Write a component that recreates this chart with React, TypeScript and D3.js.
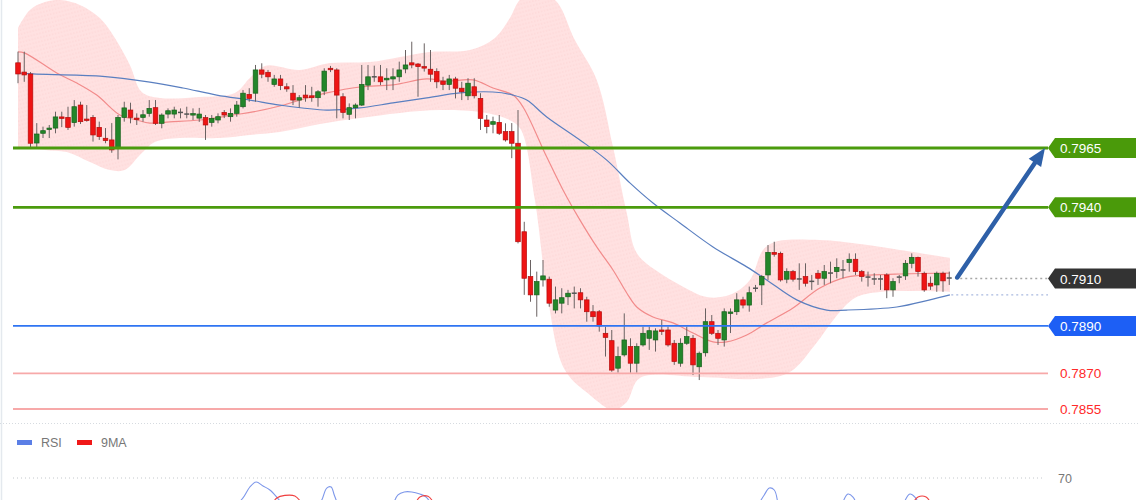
import React from 'react';
import * as d3 from 'd3';

const W = 1140;
const H = 500;

// ---- candle data (index 0..149) ----
const open = [0.80009,0.79970,0.79962,0.79671,0.79712,0.79732,0.79734,0.79781,0.79779,0.79757,0.79831,0.79772,0.79779,0.79737,0.79691,0.79684,0.79649,0.79779,0.79810,0.79776,0.79779,0.79796,0.79820,0.79754,0.79793,0.79793,0.79800,0.79793,0.79793,0.79776,0.79778,0.79758,0.79768,0.79800,0.79782,0.79796,0.79824,0.79876,0.79881,0.79979,0.79969,0.79918,0.79941,0.79908,0.79881,0.79852,0.79873,0.79870,0.79862,0.79890,0.79986,0.79979,0.79866,0.79792,0.79820,0.79831,0.79915,0.79950,0.79950,0.79937,0.79941,0.79950,0.79983,0.80009,0.80004,0.79993,0.79982,0.79972,0.79932,0.79918,0.79941,0.79902,0.79870,0.79908,0.79859,0.79768,0.79750,0.79758,0.79719,0.79719,0.79670,0.79297,0.79108,0.79031,0.79094,0.79097,0.78967,0.78996,0.79023,0.79038,0.79040,0.79010,0.78960,0.78960,0.78869,0.78838,0.78722,0.78778,0.78813,0.78743,0.78820,0.78848,0.78841,0.78883,0.78883,0.78827,0.78743,0.78827,0.78848,0.78728,0.78787,0.78918,0.78869,0.78841,0.78955,0.78960,0.79010,0.78988,0.79058,0.79073,0.79115,0.79210,0.79206,0.79097,0.79129,0.79097,0.79108,0.79087,0.79122,0.79101,0.79122,0.79129,0.79136,0.79167,0.79181,0.79129,0.79105,0.79097,0.79097,0.79115,0.79052,0.79105,0.79111,0.79164,0.79189,0.79122,0.79080,0.79073,0.79122,0.79101];
const high = [0.80056,0.80056,0.79970,0.79755,0.79740,0.79747,0.79803,0.79803,0.79824,0.79852,0.79845,0.79831,0.79789,0.79761,0.79734,0.79755,0.79789,0.79845,0.79841,0.79796,0.79810,0.79852,0.79852,0.79796,0.79817,0.79824,0.79817,0.79824,0.79817,0.79819,0.79789,0.79789,0.79796,0.79810,0.79817,0.79848,0.79894,0.79902,0.80000,0.80007,0.79979,0.79958,0.79958,0.79923,0.79915,0.79873,0.79915,0.79908,0.79894,0.79986,0.79996,0.79986,0.79881,0.79838,0.79838,0.80000,0.80000,0.79997,0.80000,0.79986,0.79986,0.80014,0.80063,0.80098,0.80008,0.80091,0.80063,0.79986,0.79950,0.79958,0.79950,0.79929,0.79944,0.79944,0.79881,0.79789,0.79782,0.79789,0.79754,0.79755,0.79810,0.79339,0.79178,0.79129,0.79178,0.79108,0.79066,0.79059,0.79052,0.79066,0.79059,0.79023,0.78988,0.78967,0.78897,0.78883,0.78813,0.78953,0.78848,0.78827,0.78897,0.78897,0.78890,0.78925,0.78897,0.78841,0.78848,0.78897,0.78862,0.78792,0.78974,0.78946,0.78883,0.78974,0.78974,0.79038,0.79023,0.79066,0.79073,0.79115,0.79241,0.79255,0.79213,0.79143,0.79136,0.79164,0.79164,0.79115,0.79136,0.79157,0.79171,0.79185,0.79178,0.79206,0.79206,0.79136,0.79129,0.79122,0.79115,0.79122,0.79101,0.79115,0.79178,0.79206,0.79192,0.79129,0.79108,0.79129,0.79129,0.79129];
const low = [0.79923,0.79929,0.79653,0.79654,0.79692,0.79692,0.79712,0.79738,0.79726,0.79740,0.79751,0.79761,0.79677,0.79684,0.79670,0.79630,0.79602,0.79761,0.79754,0.79747,0.79761,0.79782,0.79747,0.79733,0.79775,0.79775,0.79775,0.79775,0.79768,0.79760,0.79684,0.79740,0.79754,0.79776,0.79761,0.79782,0.79817,0.79845,0.79845,0.79944,0.79929,0.79908,0.79894,0.79887,0.79831,0.79820,0.79845,0.79845,0.79824,0.79873,0.79970,0.79775,0.79775,0.79768,0.79775,0.79827,0.79894,0.79929,0.79915,0.79894,0.79894,0.79929,0.79965,0.79986,0.79866,0.79972,0.79929,0.79902,0.79894,0.79894,0.79859,0.79852,0.79852,0.79859,0.79726,0.79712,0.79712,0.79705,0.79677,0.79607,0.79248,0.79031,0.79002,0.78939,0.79066,0.78981,0.78953,0.78953,0.78988,0.78974,0.78974,0.78918,0.78918,0.78876,0.78771,0.78707,0.78703,0.78771,0.78703,0.78703,0.78813,0.78799,0.78792,0.78862,0.78813,0.78736,0.78728,0.78820,0.78693,0.78672,0.78771,0.78862,0.78820,0.78813,0.78870,0.78946,0.78974,0.78960,0.79044,0.78988,0.79094,0.79192,0.79087,0.79080,0.79087,0.79052,0.79066,0.79052,0.79073,0.79073,0.79080,0.79101,0.79101,0.79129,0.79115,0.79087,0.79066,0.79073,0.79052,0.79017,0.79023,0.79080,0.79094,0.79143,0.79108,0.79044,0.79052,0.79044,0.79044,0.79073];
const close = [0.79962,0.79958,0.79670,0.79709,0.79723,0.79734,0.79781,0.79776,0.79737,0.79824,0.79761,0.79770,0.79705,0.79698,0.79681,0.79642,0.79779,0.79819,0.79779,0.79772,0.79790,0.79817,0.79754,0.79789,0.79807,0.79810,0.79799,0.79792,0.79795,0.79793,0.79747,0.79775,0.79782,0.79789,0.79796,0.79831,0.79881,0.79859,0.79979,0.79961,0.79950,0.79941,0.79913,0.79899,0.79852,0.79862,0.79862,0.79862,0.79887,0.79974,0.79983,0.79873,0.79800,0.79820,0.79831,0.79918,0.79950,0.79949,0.79929,0.79944,0.79950,0.79979,0.80000,0.80000,0.79993,0.79991,0.79961,0.79929,0.79918,0.79941,0.79902,0.79887,0.79923,0.79870,0.79775,0.79740,0.79761,0.79712,0.79684,0.79670,0.79255,0.79101,0.79031,0.79087,0.79111,0.78996,0.79010,0.79019,0.79038,0.79037,0.79010,0.78960,0.78939,0.78900,0.78852,0.78714,0.78771,0.78841,0.78743,0.78813,0.78869,0.78880,0.78879,0.78881,0.78820,0.78750,0.78827,0.78855,0.78736,0.78785,0.78918,0.78869,0.78848,0.78960,0.78959,0.79010,0.78988,0.79040,0.79059,0.79108,0.79210,0.79202,0.79094,0.79129,0.79097,0.79098,0.79080,0.79088,0.79101,0.79129,0.79123,0.79147,0.79136,0.79181,0.79129,0.79108,0.79106,0.79098,0.79098,0.79052,0.79087,0.79106,0.79164,0.79189,0.79129,0.79052,0.79068,0.79122,0.79090,0.79102];

// ---- Bollinger band & moving averages: [candle index, price] ----
const upperBand = [[0,0.80156],[1.9,0.80232],[4.3,0.80265],[6.7,0.80274],[9.9,0.80253],[13.1,0.80198],[15.5,0.80114],[17.9,0.80000],[19.8,0.79886],[22.7,0.79861],[29.1,0.79865],[34.7,0.79882],[37.1,0.79945],[39.5,0.79996],[45.1,0.79979],[49.9,0.80008],[56.3,0.80012],[61.1,0.80034],[65.9,0.80055],[72.3,0.80063],[76.3,0.80114],[78.7,0.80198],[80.3,0.80274],[82.5,0.80300],[85.9,0.80274],[89.1,0.80105],[92.6,0.79937],[95.2,0.79654],[97.4,0.79376],[99,0.79207],[102.7,0.79123],[105.9,0.79073],[110.2,0.79022],[113.9,0.79031],[117.1,0.79094],[119.2,0.79220],[121.1,0.79254],[128.3,0.79262],[134.7,0.79245],[141.1,0.79220],[149.1,0.79187]];
const lowerBand = [[0,0.79654],[4.3,0.79642],[7.8,0.79633],[11.5,0.79591],[14.7,0.79557],[17.1,0.79557],[19.5,0.79620],[21.9,0.79675],[25.9,0.79692],[32.3,0.79692],[37.1,0.79705],[41.9,0.79717],[48.3,0.79751],[54.7,0.79776],[61.1,0.79798],[67.5,0.79810],[73.9,0.79802],[77.9,0.79776],[80.3,0.79734],[82.7,0.79431],[84.8,0.79010],[87.5,0.78714],[91.5,0.78609],[95.2,0.78546],[97.4,0.78580],[99.5,0.78681],[109.1,0.78685],[118.7,0.78677],[123.5,0.78706],[127.5,0.78820],[130.7,0.78934],[133.9,0.79018],[137.9,0.79043],[149.1,0.79043]];
const middleBand = [[0,0.80055],[1.1,0.80050],[6.2,0.79966],[9.4,0.79924],[12.6,0.79873],[16.3,0.79789],[19,0.79768],[21.1,0.79755],[24.3,0.79760],[29.1,0.79768],[34.4,0.79789],[37.6,0.79802],[41.9,0.79827],[45.1,0.79852],[49.4,0.79882],[54.7,0.79907],[60,0.79916],[65.4,0.79941],[68.6,0.79932],[72.8,0.79937],[76,0.79903],[79.2,0.79873],[80.8,0.79823],[84.6,0.79612],[87.2,0.79473],[89.9,0.79347],[92.6,0.79233],[95.2,0.79136],[97.4,0.79039],[99,0.78980],[101.6,0.78938],[104.8,0.78913],[108,0.78870],[111.2,0.78833],[113.4,0.78833],[116.6,0.78862],[119.8,0.78913],[124,0.78976],[128.3,0.79060],[132.6,0.79106],[136.8,0.79115],[141.1,0.79119],[149.1,0.79123]];
const slowMA = [[0,0.79966],[2.4,0.79962],[13.1,0.79953],[21.1,0.79928],[26.4,0.79903],[31.8,0.79873],[37.1,0.79852],[41.9,0.79831],[49.4,0.79810],[54.7,0.79819],[60,0.79840],[65.4,0.79861],[70.7,0.79882],[76,0.79886],[79.2,0.79873],[81.4,0.79852],[84.6,0.79781],[89.9,0.79684],[94.2,0.79599],[97.9,0.79503],[101.6,0.79418],[105.9,0.79334],[111.2,0.79233],[116.6,0.79149],[119.8,0.79094],[124.6,0.79010],[129.4,0.78967],[132.6,0.78967],[140.6,0.78980],[145.9,0.79010],[149.1,0.79031]];

// ---- levels ----
const resistanceLevels = [0.7965, 0.7940];
const lastPrice = 0.7910;
const pivotLevel = 0.7890;
const supportLevels = [0.7870, 0.7855];
const targetLevel = 0.7965;

// ---- RSI pane (visible parts only): [candle index, value] ----
const rsiSegments = [
  [[34.9,52],[36,56.7],[37.1,64],[38.1,67.3],[39.2,64.7],[40.3,62],[41.4,57.3],[42.4,52]],
  [[48,52],[48.6,55.3],[49.4,63.3],[50.1,64],[50.6,58.7],[51.2,52]],
  [[60,52],[60.8,58.7],[61.8,60.7],[63,60.7],[64.3,59.3],[65.3,57.3],[66.2,52]],
  [[118.4,52],[119.4,58.7],[120.2,63.3],[121,62],[121.6,52]],
  [[131.8,52],[132.8,59.3],[133.6,57.3],[134.2,52]],
  [[141.6,52],[142.7,59.3],[143.5,57.3],[144.2,52]],
];
const rsiMaSegments = [
  [[40.6,52],[41.4,56.7],[42.7,58.4],[44.3,58],[45.6,52]],
  [[63.5,52],[64.3,57.3],[65.6,57.8],[66.7,52]],
  [[143,52],[144,57.3],[145.3,57.3],[146.2,52]],
];
const rsiLevel = 70;
const legendLabels = ['RSI', '9MA'];

const FONT = '"Liberation Sans", Arial, Helvetica, sans-serif';

export default function App() {
  const x = d3.scaleLinear().domain([0, 149]).range([18, 949.25]);
  const y = d3.scaleLinear().domain([0.7855, 0.7965]).range([409, 148]);
  const ry = d3.scaleLinear().domain([30, 70]).range([538, 478]);

  const line = d3.line<number[]>().x(d => x(d[0])).y(d => y(d[1])).curve(d3.curveCatmullRom.alpha(0.5));
  const rline = d3.line<number[]>().x(d => x(d[0])).y(d => ry(d[1])).curve(d3.curveCatmullRom.alpha(0.5));

  const upPath = line(upperBand) || '';
  const lowPath = line([...lowerBand].reverse()) || '';
  const bandPath = upPath + 'L' + lowPath.slice(1) + 'Z';

  const tagX = 1048;
  const tagW = 88;
  const tag = (yc: number) => `M${tagX},${yc} L${tagX + 7},${yc - 10} L${tagX + tagW},${yc - 10} L${tagX + tagW},${yc + 10} L${tagX + 7},${yc + 10} Z`;

  // arrow
  const ax0 = x(149) + 8, ay0 = y(lastPrice) - 1;
  const ax1 = tagX - 3, ay1 = y(targetLevel);
  const dx = ax1 - ax0, dy = ay1 - ay0, len = Math.hypot(dx, dy);
  const ux = dx / len, uy = dy / len;
  const hl = 18, hw = 7.5;
  const bx = ax1 - ux * hl, by = ay1 - uy * hl;
  const head = `M${ax1},${ay1} L${bx + uy * hw},${by - ux * hw} L${bx - uy * hw},${by + ux * hw} Z`;

  const greenLine = '#4b9b0d';
  const greenTag = '#4a9a0a';

  return (
    <svg width={W} height={H} style={{ position: 'absolute', left: 0, top: 0, background: '#fff' }} fontFamily={FONT}>
      <defs>
        <pattern id="hatch" width="9" height="4" patternUnits="userSpaceOnUse" patternTransform="rotate(-14)">
          <rect width="9" height="4" fill="#ffe1e1" />
          <line x1="0" y1="2" x2="9" y2="2" stroke="#fbd0d0" strokeWidth="0.8" strokeDasharray="1.5,1.5" />
        </pattern>
        <clipPath id="main"><rect x="0" y="0" width={W} height="424" /></clipPath>
      </defs>
      <rect x="0" y="0" width={W} height={H} fill="#fff" />
      <line x1="1.5" y1="0" x2="1.5" y2={H} stroke="#e4e9ee" strokeWidth="1.5" />

      <g clipPath="url(#main)">
        <path d={bandPath} fill="url(#hatch)" />
        <path d={line(middleBand) || ''} fill="none" stroke="#f28b8b" strokeWidth="1.2" />
        <path d={line(slowMA) || ''} fill="none" stroke="#5a7fc0" strokeWidth="1.2" />

        {open.map((o, i) => {
          const c = close[i];
          const cx = x(i);
          const up = c > o;
          const doji = Math.abs(c - o) < 0.000015;
          const top = y(Math.max(o, c));
          const bot = y(Math.min(o, c));
          const hi = y(Math.max(high[i], o, c));
          const lo = y(Math.min(low[i], o, c));
          return (
            <g key={i}>
              <line x1={cx} x2={cx} y1={hi} y2={lo} stroke="#6a6262" strokeWidth="1" />
              {doji ? (
                <rect x={cx - 2.5} y={top - 0.75} width={5} height={1.5} fill="#555" />
              ) : (
                <rect x={cx - 2.3} y={top} width={4.6} height={Math.max(1.5, bot - top)}
                  fill={up ? '#23862a' : '#ee1414'} stroke={up ? '#16611b' : '#b50d0d'} strokeWidth="0.7" />
              )}
            </g>
          );
        })}

        {resistanceLevels.map((v, i) => (
          <line key={'r' + i} x1="13" x2={tagX} y1={y(v)} y2={y(v)} stroke={greenLine} strokeWidth="2.8" />
        ))}
        <line x1="13" x2={tagX} y1={y(pivotLevel)} y2={y(pivotLevel)} stroke="#2f74f2" strokeWidth="1.8" />
        {supportLevels.map((v, i) => (
          <line key={'s' + i} x1="13" x2={tagX} y1={y(v)} y2={y(v)} stroke="#f7a9a9" strokeWidth="1.8" />
        ))}
        <line x1={x(149) + 6} x2={tagX} y1={y(lastPrice)} y2={y(lastPrice)} stroke="#a6a6a6" strokeWidth="1.3" strokeDasharray="2,3" />
        <line x1={x(149) + 2} x2={tagX} y1={y(slowMA[slowMA.length - 1][1])} y2={y(slowMA[slowMA.length - 1][1])} stroke="#a9b9df" strokeWidth="1.3" strokeDasharray="2,3" />

        <line x1={ax0} y1={ay0} x2={bx + ux * 2} y2={by + uy * 2} stroke="#2e60a8" strokeWidth="4.5" strokeLinecap="round" />
        <path d={head} fill="#2e60a8" />
      </g>

      {resistanceLevels.map((v, i) => (
        <g key={'rt' + i}>
          <path d={tag(y(v))} fill={greenTag} />
          <text x={tagX + 12} y={y(v) + 5} fill="#fff" fontSize="13.5">{v.toFixed(4)}</text>
        </g>
      ))}
      <path d={tag(y(lastPrice))} fill="#333333" />
      <text x={tagX + 12} y={y(lastPrice) + 5} fill="#fff" fontSize="13.5">{lastPrice.toFixed(4)}</text>
      <path d={tag(y(pivotLevel))} fill="#1d5ff5" />
      <text x={tagX + 12} y={y(pivotLevel) + 5} fill="#fff" fontSize="13.5">{pivotLevel.toFixed(4)}</text>
      {supportLevels.map((v, i) => (
        <text key={'st' + i} x={tagX + 12} y={y(v) + 5} fill="#ff2a2a" fontSize="13.5">{v.toFixed(4)}</text>
      ))}

      {/* RSI pane */}
      <line x1="0" x2={W} y1="423.5" y2="423.5" stroke="#d6dbe0" strokeWidth="1" strokeDasharray="1,2" />
      <rect x="17" y="440" width="15" height="5" fill="#5b7fe6" />
      <text x="41" y="447" fontSize="12.5" fill="#777">{legendLabels[0]}</text>
      <rect x="77" y="440" width="15" height="5" fill="#f01818" />
      <text x="101" y="447" fontSize="12.5" fill="#777">{legendLabels[1]}</text>
      <line x1="13" x2="1045" y1={ry(rsiLevel)} y2={ry(rsiLevel)} stroke="#c4c8cc" strokeWidth="1" strokeDasharray="1,3" />
      <text x="1058" y={ry(rsiLevel) + 5} fontSize="12.5" fill="#777">{rsiLevel}</text>
      {rsiSegments.map((s, i) => (
        <path key={'rsi' + i} d={rline(s) || ''} fill="none" stroke="#7d97ea" strokeWidth="1.1" />
      ))}
      {rsiMaSegments.map((s, i) => (
        <path key={'rma' + i} d={rline(s) || ''} fill="none" stroke="#f04040" strokeWidth="1.1" />
      ))}
    </svg>
  );
}
